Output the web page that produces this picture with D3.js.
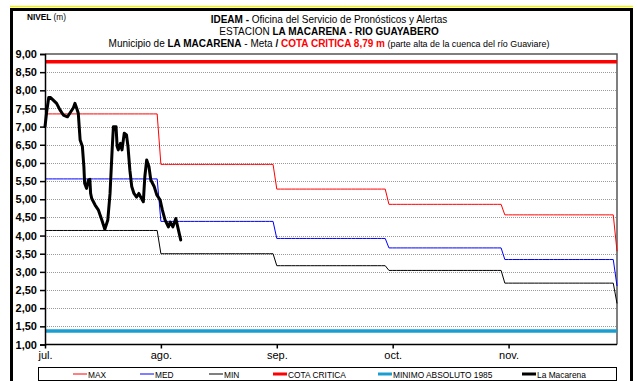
<!DOCTYPE html>
<html>
<head>
<meta charset="utf-8">
<script src="https://cdn.jsdelivr.net/npm/d3@7/dist/d3.min.js"></script>
<style>
  body { margin: 0; background: #fff; }
  svg { display: block; }
  text { font-family: "Liberation Sans", Arial, Helvetica, sans-serif; }
</style>
</head>
<body>
<svg id="chart" width="637" height="381"></svg>
<script>
// Month labels of the category axis (one label every 31 daily categories)
const meses = ["jul.", "ago.", "sep.", "oct.", "nov."];
// Days covered by each monthly level (jul..nov, plus 1 de diciembre)
const diasMes = [31, 31, 30, 31, 30, 1];
// Monthly historical levels (m)
const nivelMax = [7.35, 5.96, 5.28, 4.86, 4.57, 3.57];
const nivelMed = [5.56, 4.39, 3.92, 3.66, 3.34, 2.61];
const nivelMin = [4.14, 3.50, 3.17, 3.04, 2.69, 2.13];
const cotaCritica = 8.79;
const minimoAbsoluto1985 = 1.37;
// Observed levels at La Macarena (day offset from 1 jul, level in m)
const laMacarenaDia = [0, 0.5, 1, 1.5, 2.2, 3.1, 4, 4.9, 6, 6.9, 7.6, 8, 8.5, 8.9, 9.4, 10,
  10.4, 10.6, 11.1, 11.6, 12, 12.2, 12.5, 13.4, 14.3, 15.2, 16, 16.8, 17.4, 18, 18.3, 19,
  19.3, 19.6, 20.2, 20.6, 21.2, 21.8, 22.2, 22.7, 23.2, 23.8, 24.5, 25.1, 25.6, 26.3, 26.7,
  27.2, 27.8, 28.3, 29.2, 29.9, 30.8, 31.4, 32.1, 33, 33.5, 34.2, 35, 35.3, 36.3];
const laMacarenaNivel = [7.00, 7.45, 7.80, 7.80, 7.73, 7.64, 7.46, 7.32, 7.27, 7.41, 7.52, 7.64, 7.50, 7.37, 6.63, 6.45,
  5.90, 5.44, 5.30, 5.53, 5.55, 5.16, 5.02, 4.84, 4.70, 4.43, 4.17, 4.43, 5.16, 6.45, 7.00, 7.00,
  6.45, 6.36, 6.54, 6.36, 6.82, 6.77, 6.45, 5.80, 5.35, 5.16, 5.06, 5.16, 5.06, 4.93, 5.62,
  6.08, 5.90, 5.53, 5.35, 5.12, 4.98, 4.70, 4.43, 4.24, 4.37, 4.24, 4.47, 4.33, 3.88];
const yTicks = [1, 1.5, 2, 2.5, 3, 3.5, 4, 4.5, 5, 5.5, 6, 6.5, 7, 7.5, 8, 8.5, 9];
const xTicks = [0, 31, 62, 93, 124];

const svg = d3.select("#chart");
const W = 637, H = 381;
const L = 45, R = 617, T = 54, B = 344.5;

const x = d3.scaleLinear().domain([0, 153]).range([L, R]);
const y = d3.scaleLinear().domain([1, 9]).range([B, T]);
const fmt = d => d3.format(".2f")(d).replace(".", ",");

svg.append("rect").attr("width", W).attr("height", H).attr("fill", "#fff");

// outer frame
svg.append("line").attr("x1", 10).attr("x2", 633).attr("y1", 6.5).attr("y2", 6.5)
  .attr("stroke", "#f2f200").attr("stroke-width", 1.5);
svg.append("path").attr("d", `M11.5,381 V9.5 H631.5 V381`)
  .attr("fill", "none").attr("stroke", "#000").attr("stroke-width", 3);

// titles (condensed face)
const titles = svg.append("g").attr("text-anchor", "middle").attr("font-size", 11).attr("fill", "#000")
  .attr("transform", "translate(329,0) scale(0.91,1)");
const t1 = titles.append("text").attr("x", 0).attr("y", 23);
t1.append("tspan").attr("font-weight", "bold").text("IDEAM - ");
t1.append("tspan").text("Oficina del Servicio de Pronósticos y Alertas");
const t2 = titles.append("text").attr("x", 0).attr("y", 35);
t2.append("tspan").text("ESTACION ");
t2.append("tspan").attr("font-weight", "bold").text("LA MACARENA - RIO GUAYABERO");
const t3 = titles.append("text").attr("x", 0).attr("y", 47);
t3.append("tspan").text("Municipio de ");
t3.append("tspan").attr("font-weight", "bold").text("LA MACARENA");
t3.append("tspan").text(" - Meta  ");
t3.append("tspan").attr("font-weight", "bold").text("/  ");
t3.append("tspan").attr("font-weight", "bold").attr("fill", "#ff0000").text("COTA CRITICA 8,79 m");
t3.append("tspan").attr("font-size", 9.8).text(" (parte alta de la cuenca del río Guaviare)");

const nv = svg.append("text").attr("font-size", 9).attr("transform", "translate(27,20) scale(0.92,1)");
nv.append("tspan").attr("font-weight", "bold").text("NIVEL");
nv.append("tspan").text(" (m)");

// gridlines
svg.append("g").selectAll("line").data(yTicks.filter(v => v > 1 && v < 9)).join("line")
  .attr("x1", L).attr("x2", R)
  .attr("y1", d => Math.round(y(d)) + 0.5).attr("y2", d => Math.round(y(d)) + 0.5)
  .attr("stroke", "#9a9a9a").attr("stroke-width", 1).attr("stroke-dasharray", "1,1");

// plot border (top and right)
svg.append("path").attr("d", `M${L},${T} H${R} V${B}`)
  .attr("fill", "none").attr("stroke", "#555").attr("stroke-width", 1.5);

// daily series built from the monthly levels
function diario(valores) {
  const out = [];
  let i = 0;
  valores.forEach((v, m) => {
    for (let d = 0; d < diasMes[m]; d++) out.push([i++, v]);
  });
  return out;
}
const line = d3.line().x(d => x(d[0])).y(d => y(d[1]));

svg.append("line").attr("x1", L).attr("x2", R)
  .attr("y1", y(minimoAbsoluto1985)).attr("y2", y(minimoAbsoluto1985))
  .attr("stroke", "#1a9ed0").attr("stroke-width", 3.5);
svg.append("line").attr("x1", L).attr("x2", R)
  .attr("y1", y(cotaCritica)).attr("y2", y(cotaCritica))
  .attr("stroke", "#ff0000").attr("stroke-width", 3.5);

svg.append("path").datum(diario(nivelMin)).attr("d", line)
  .attr("fill", "none").attr("stroke", "#000").attr("stroke-width", 1);
svg.append("path").datum(diario(nivelMed)).attr("d", line)
  .attr("fill", "none").attr("stroke", "#0000ff").attr("stroke-width", 1);
svg.append("path").datum(diario(nivelMax)).attr("d", line)
  .attr("fill", "none").attr("stroke", "#ff0000").attr("stroke-width", 1);

svg.append("path").datum(laMacarenaDia.map((d, i) => [d, laMacarenaNivel[i]]))
  .attr("d", line)
  .attr("fill", "none").attr("stroke", "#000").attr("stroke-width", 3)
  .attr("stroke-linejoin", "round").attr("stroke-linecap", "round");

// axes
const ax = svg.append("g").attr("transform", `translate(${L},0)`)
  .call(d3.axisLeft(y).tickValues(yTicks).tickFormat(fmt).tickSize(5).tickPadding(3));
ax.selectAll("text").attr("font-size", 11).attr("font-weight", "bold")
  .attr("font-family", "'Liberation Sans', Arial, sans-serif");
ax.selectAll("line,path").attr("stroke", "#000").attr("stroke-width", 1.5);

const bx = svg.append("g").attr("transform", `translate(0,${B})`)
  .call(d3.axisBottom(x).tickValues(xTicks).tickFormat((d, i) => meses[i]).tickSize(4).tickPadding(3));
bx.selectAll("text").attr("font-size", 11).attr("font-family", "'Liberation Sans', Arial, sans-serif");
bx.selectAll("line,path").attr("stroke", "#000").attr("stroke-width", 1.5);
bx.select(".domain").attr("d", `M${L},0H${R}`);

// legend
const leg = svg.append("g");
leg.append("rect").attr("x", 38.5).attr("y", 367.5).attr("width", 578).attr("height", 13)
  .attr("fill", "#fff").attr("stroke", "#000").attr("stroke-width", 1);
const items = [
  { name: "MAX", color: "#ff0000", w: 1, x0: 73 },
  { name: "MED", color: "#0000ff", w: 1, x0: 140 },
  { name: "MIN", color: "#000", w: 1, x0: 209 },
  { name: "COTA CRITICA", color: "#ff0000", w: 3, x0: 273 },
  { name: "MINIMO ABSOLUTO 1985", color: "#1a9ed0", w: 3, x0: 378 },
  { name: "La Macarena", color: "#000", w: 3, x0: 522 }
];
const li = leg.selectAll("g.item").data(items).join("g").attr("class", "item");
li.append("line").attr("x1", d => d.x0).attr("x2", d => d.x0 + 14)
  .attr("y1", 374).attr("y2", 374).attr("stroke", d => d.color).attr("stroke-width", d => d.w);
li.append("text").attr("transform", d => `translate(${d.x0 + 15},377.5) scale(0.93,1)`)
  .attr("font-size", 9).text(d => d.name);
</script>
</body>
</html>
